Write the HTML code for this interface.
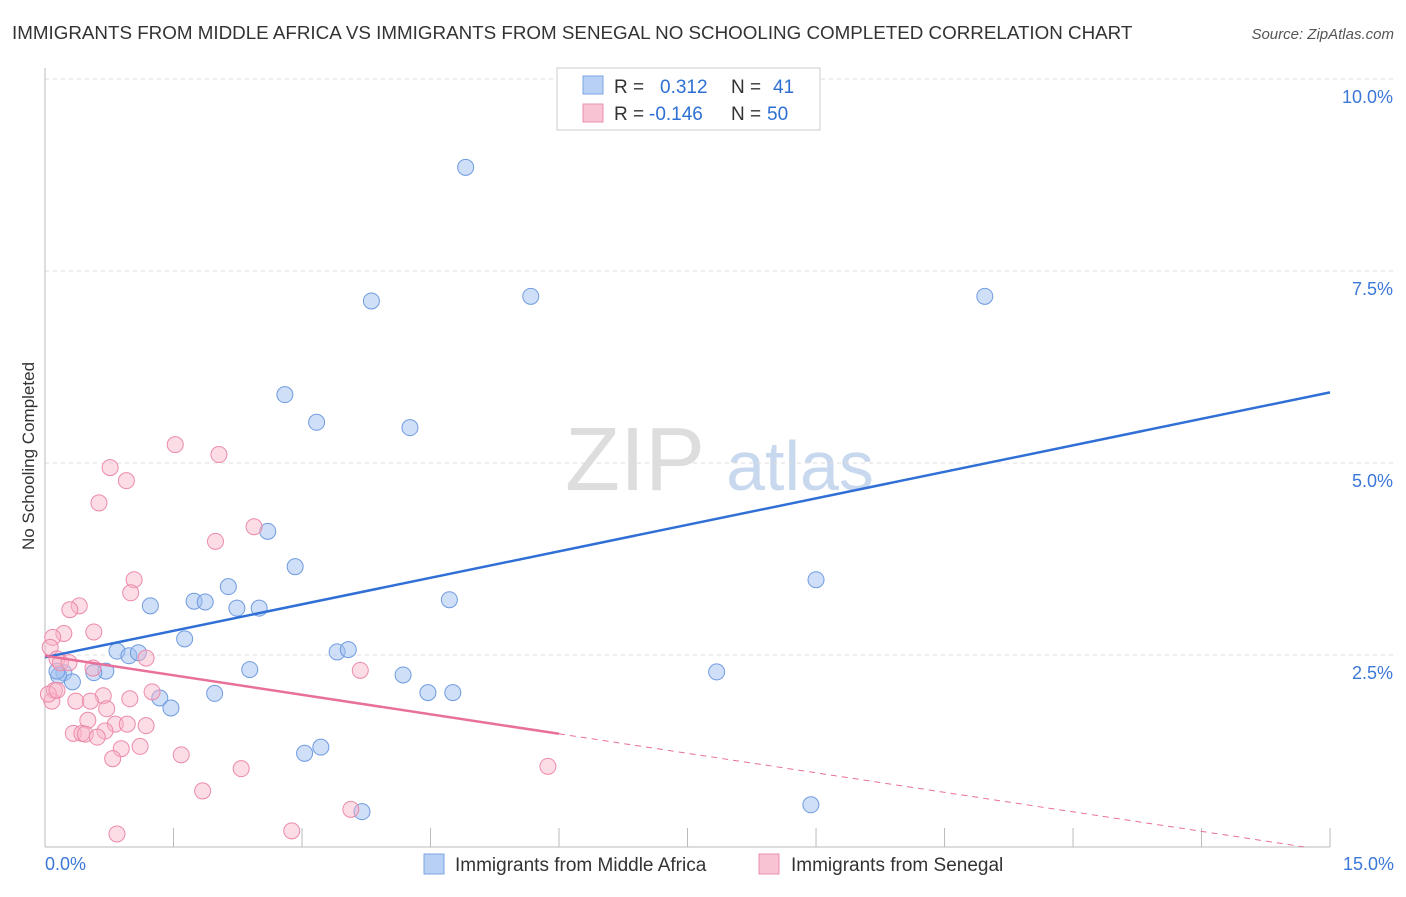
<!DOCTYPE html>
<html><head><meta charset="utf-8">
<style>
body{margin:0;background:#fff;font-family:"Liberation Sans",sans-serif;}
svg text{font-family:"Liberation Sans",sans-serif;}
</style></head>
<body>
<svg id="chart" width="1406" height="892" xmlns="http://www.w3.org/2000/svg">
<text x="12" y="39" font-size="18.8" fill="#333">IMMIGRANTS FROM MIDDLE AFRICA VS IMMIGRANTS FROM SENEGAL NO SCHOOLING COMPLETED CORRELATION CHART</text>
<text x="1394" y="39" font-size="15" fill="#555" text-anchor="end" font-style="italic">Source: ZipAtlas.com</text>
<text transform="translate(34,456) rotate(-90)" font-size="17" fill="#333" text-anchor="middle">No Schooling Completed</text>
<g>
<text x="635" y="490" font-size="90" fill="#ddd" font-family="Liberation Serif" text-anchor="middle">ZIP</text>
<text x="800" y="490" font-size="70" fill="#c8d8ee" text-anchor="middle">atlas</text>
</g>
<g id="grid"></g><g id="axes"></g><g id="marks"></g>
<g>
<rect x="557" y="68" width="263" height="62" fill="#fff" stroke="#ccc"/>
<rect x="583" y="76" width="20" height="18" fill="#b8d0f4" stroke="#7aa4e0"/>
<text x="614" y="93" font-size="19" fill="#333">R =</text><text x="660" y="93" font-size="19" fill="#2e6fd4">0.312</text>
<text x="731" y="93" font-size="19" fill="#333">N =</text><text x="773" y="93" font-size="19" fill="#2e6fd4">41</text>
<rect x="583" y="104" width="20" height="18" fill="#f8c4d4" stroke="#ec90ac"/>
<text x="614" y="120" font-size="19" fill="#333">R =</text><text x="649" y="120" font-size="19" fill="#2e6fd4">-0.146</text>
<text x="731" y="120" font-size="19" fill="#333">N =</text><text x="767" y="120" font-size="19" fill="#2e6fd4">50</text>
</g>
<g>
<rect x="424" y="854" width="20" height="20" fill="#b8d0f4" stroke="#7aa4e0"/>
<text x="455" y="871" font-size="19" fill="#333">Immigrants from Middle Africa</text>
<rect x="759" y="854" width="20" height="20" fill="#f8c4d4" stroke="#ec90ac"/>
<text x="791" y="871" font-size="19" fill="#333">Immigrants from Senegal</text>
</g>
</svg>
<script>
const yTicks=[2.5,5.0,7.5,10.0];
const xTickLabels=["0.0%","15.0%"];
const blueXs=[4.91,3.81,5.67,10.97,2.80,3.17,4.26,2.60,2.92,9.00,2.14,1.23,1.74,1.87,2.24,2.50,4.72,1.63,0.84,0.98,1.09,3.41,3.54,2.39,0.71,0.57,0.22,0.16,0.32,4.18,7.84,1.34,1.47,1.98,4.47,4.76,3.03,3.22,8.94,3.70,0.14];
const blueYs=[8.85,7.11,7.17,7.17,5.89,5.53,5.46,4.11,3.65,3.48,3.39,3.14,3.20,3.19,3.11,3.11,3.22,2.71,2.55,2.49,2.53,2.54,2.57,2.31,2.29,2.27,2.27,2.23,2.15,2.24,2.28,1.94,1.81,2.00,2.01,2.01,1.22,1.30,0.55,0.46,2.29];
const pinkXs=[1.52,2.03,0.76,0.95,0.63,2.44,1.99,1.04,1.00,0.40,0.29,0.57,0.22,0.09,0.06,0.14,0.18,0.28,1.18,0.56,0.11,3.68,1.25,0.68,0.99,0.36,0.53,0.72,0.50,0.82,0.96,1.18,0.70,0.33,0.43,0.47,0.61,1.11,0.89,1.59,0.79,2.29,5.87,1.84,3.57,2.88,0.84,0.08,0.04,0.14];
const pinkYs=[5.24,5.11,4.94,4.77,4.48,4.17,3.98,3.48,3.31,3.14,3.09,2.80,2.78,2.73,2.60,2.45,2.40,2.40,2.46,2.33,2.04,2.30,2.02,1.97,1.93,1.90,1.90,1.80,1.65,1.60,1.60,1.58,1.51,1.48,1.48,1.47,1.43,1.31,1.28,1.20,1.15,1.02,1.05,0.73,0.49,0.21,0.17,1.90,1.99,2.04];
const blueFit=[2.47,5.92];
const pinkFit=[2.49,-0.05];
const solidEnd=6.0;
const NS="http://www.w3.org/2000/svg";
const sx=v=>45+v*85.67, sy=v=>847-v*76.8;
function mk(p,t,a){const e=document.createElementNS(NS,t);for(const k in a)e.setAttribute(k,a[k]);p.appendChild(e);return e;}
const grid=document.getElementById('grid'),axes=document.getElementById('axes'),marks=document.getElementById('marks');
yTicks.forEach(t=>{
 const l=mk(grid,'line',{x1:45,x2:1394,y1:sy(t),y2:sy(t),stroke:'#ddd','stroke-dasharray':'4,4'});
 
 
 const tx=mk(grid,'text',{x:1393,y:sy(t)+24,'font-size':18,fill:'#3b78d8','text-anchor':'end'});tx.textContent=t.toFixed(1)+'%';
 
 
});
const xa=mk(axes,'line',{x1:45,x2:1330,y1:847,y2:847,stroke:'#bbb'});


const ya=mk(axes,'line',{x1:45,x2:45,y1:68,y2:847,stroke:'#bbb'});


for(let i=1;i<=10;i++){const t=mk(axes,'line',{x1:sx(i*1.5),x2:sx(i*1.5),y1:828,y2:847,stroke:'#bbb'});
 
 }
const xl0=mk(axes,'text',{x:45,y:870,'font-size':18,fill:'#3b78d8'});xl0.textContent=xTickLabels[0];


const xl1=mk(axes,'text',{x:1394,y:870,'font-size':18,fill:'#3b78d8','text-anchor':'end'});xl1.textContent=xTickLabels[1];


blueXs.forEach((x,i)=>{const c=mk(marks,'circle',{cx:sx(x),cy:sy(blueYs[i]),r:8,fill:'rgba(160,192,240,0.5)',stroke:'#6f9be0','stroke-width':1});
 
 });
pinkXs.forEach((x,i)=>{const c=mk(marks,'circle',{cx:sx(x),cy:sy(pinkYs[i]),r:8,fill:'rgba(248,180,200,0.45)',stroke:'#ec8aaa','stroke-width':1});
 
 });
const bl=mk(marks,'line',{x1:sx(0),y1:sy(blueFit[0]),x2:sx(15),y2:sy(blueFit[1]),stroke:'#2f6fd6','stroke-width':2.5});


const pAt=x=>pinkFit[0]+(pinkFit[1]-pinkFit[0])*x/15;
const pl=mk(marks,'line',{x1:sx(0),y1:sy(pinkFit[0]),x2:sx(solidEnd),y2:sy(pAt(solidEnd)),stroke:'#e8709a','stroke-width':2.5});


const pd=mk(marks,'line',{x1:sx(solidEnd),y1:sy(pAt(solidEnd)),x2:sx(14.7),y2:sy(pAt(14.7)),stroke:'#e8709a','stroke-width':1,'stroke-dasharray':'6,5'});


</script>
</body></html>
